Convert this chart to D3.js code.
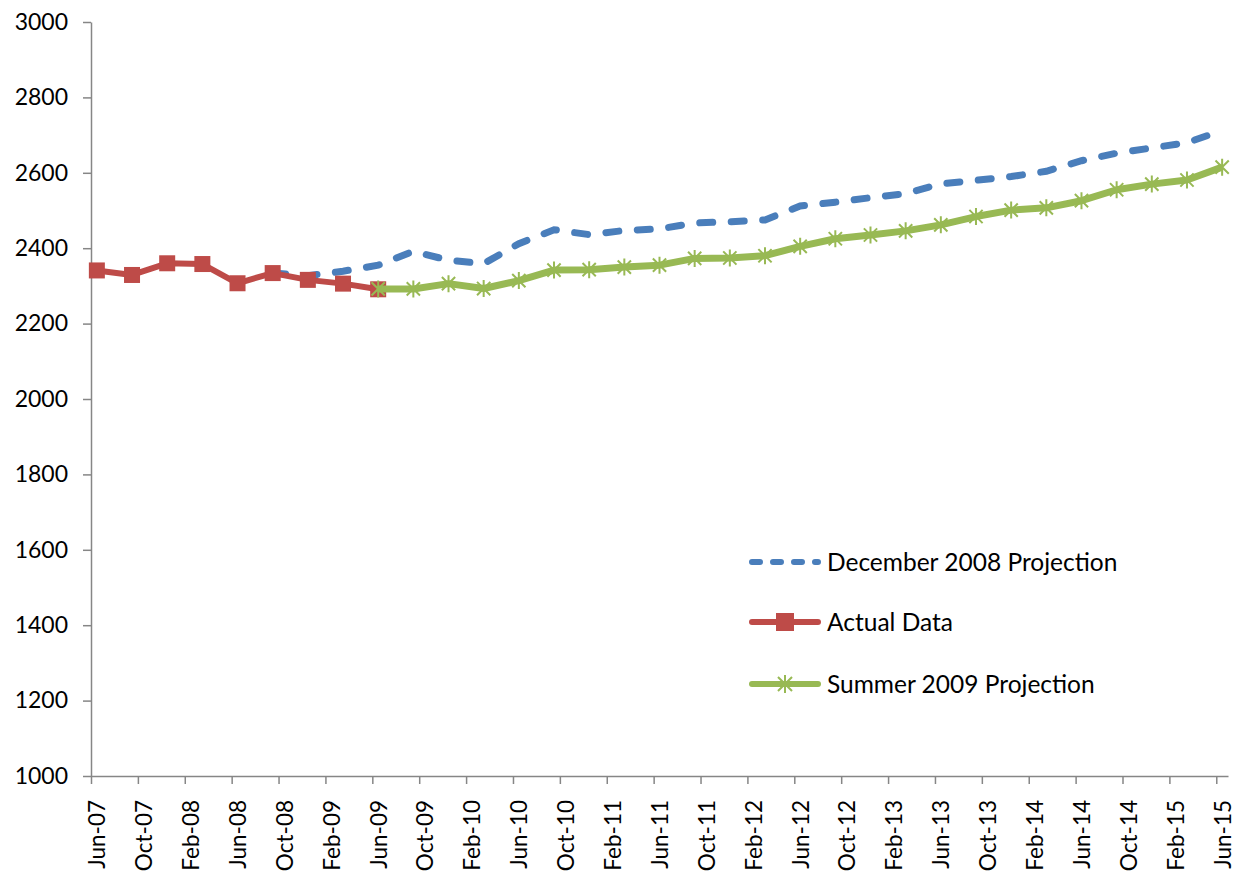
<!DOCTYPE html>
<html>
<head>
<meta charset="utf-8">
<script src="https://cdn.jsdelivr.net/npm/d3@7"></script>
<style>
  body { margin: 0; background: #fff; }
  svg { display: block; font-family: Lato, "Open Sans", sans-serif; }
</style>
</head>
<body>
<script>
'use strict';

// tick labels of the date axis (every 4 months)
let tickLabels = ["Jun-07", "Oct-07", "Feb-08", "Jun-08", "Oct-08", "Feb-09", "Jun-09",
  "Oct-09", "Feb-10", "Jun-10", "Oct-10", "Feb-11", "Jun-11", "Oct-11", "Feb-12",
  "Jun-12", "Oct-12", "Feb-13", "Jun-13", "Oct-13", "Feb-14", "Jun-14", "Oct-14",
  "Feb-15", "Jun-15"];

// quarterly dates of the data points
let quarterDates = ["Jun-07", "Sep-07", "Dec-07", "Mar-08", "Jun-08", "Sep-08", "Dec-08",
  "Mar-09", "Jun-09", "Sep-09", "Dec-09", "Mar-10", "Jun-10", "Sep-10", "Dec-10",
  "Mar-11", "Jun-11", "Sep-11", "Dec-11", "Mar-12", "Jun-12", "Sep-12", "Dec-12",
  "Mar-13", "Jun-13", "Sep-13", "Dec-13", "Mar-14", "Jun-14", "Sep-14", "Dec-14",
  "Mar-15", "Jun-15"];

// series values
let actualDates = quarterDates.slice(0, 9);
let actualValues = [2341, 2329, 2360, 2358, 2307, 2334, 2316, 2306, 2291];

let dec2008Dates = quarterDates.slice(5);
let dec2008Values = [2334, 2327, 2339, 2355, 2392, 2368, 2359, 2412, 2449, 2436,
  2447, 2451, 2467, 2470, 2475, 2512, 2522, 2534, 2545, 2571, 2580, 2590, 2604,
  2632, 2652, 2666, 2680, 2712];

let summer2009Dates = quarterDates.slice(8);
let summer2009Values = [2292, 2292, 2306, 2293, 2314, 2342, 2343, 2350, 2355, 2373,
  2374, 2380, 2405, 2425, 2435, 2446, 2462, 2484, 2501, 2507, 2526, 2555, 2570,
  2581, 2615];

let yTicks = [1000, 1200, 1400, 1600, 1800, 2000, 2200, 2400, 2600, 2800, 3000];

let seriesNames = ["December 2008 Projection", "Actual Data", "Summer 2009 Projection"];

// chart size and plot area
let width = 1236, height = 873;
let plot = { left: 91, right: 1228, top: 22, bottom: 776 };

let colors = { blue: "#4A7EBB", red: "#BE4B48", green: "#98B954", axis: "#868686" };
let fontFamily = 'Lato, "Open Sans", sans-serif';

let monthNames = ["Jan", "Feb", "Mar", "Apr", "May", "Jun", "Jul", "Aug", "Sep", "Oct", "Nov", "Dec"];

// months since Jun-07
function monthIndex(label) {
  let parts = label.split("-");
  let year = 2000 + (+parts[1]);
  return (year - 2007) * 12 + monthNames.indexOf(parts[0]) - 5;
}

let svg = d3.select("body").append("svg")
  .attr("width", width)
  .attr("height", height);

// date axis: one slot per month, points sit in the middle of their month
let x = d3.scaleLinear().domain([0, 97]).range([plot.left, plot.right]);
let y = d3.scaleLinear().domain([1000, 3000]).range([plot.bottom, plot.top]);
let halfMonth = (x(1) - x(0)) / 2;

function px(d) { return x(monthIndex(d) + 0.5); }

// y axis
let yAxis = svg.append("g")
  .attr("transform", "translate(" + plot.left + ",0)")
  .call(d3.axisLeft(y)
    .tickValues(yTicks)
    .tickFormat(d => String(d))
    .tickSize(8)
    .tickSizeOuter(0)
    .tickPadding(15));

// x axis
let xAxis = svg.append("g")
  .attr("transform", "translate(0," + plot.bottom + ")")
  .call(d3.axisBottom(x)
    .tickValues(tickLabels.map(monthIndex))
    .tickSize(8)
    .tickSizeOuter(0)
    .tickFormat((d, i) => tickLabels[i]));

[xAxis, yAxis].forEach(g => {
  g.attr("font-family", fontFamily).attr("font-size", 23);
  g.select(".domain").attr("stroke", colors.axis).attr("stroke-width", 1.5);
  g.selectAll(".tick line").attr("stroke", colors.axis).attr("stroke-width", 1.5);
  g.selectAll(".tick text").attr("fill", "#000");
});

// rotated date labels, centred on their month slot
xAxis.selectAll(".tick text")
  .attr("x", 0)
  .attr("y", 0)
  .attr("dy", "0.35em")
  .attr("font-size", 22.5)
  .attr("transform", "translate(" + halfMonth + ",24) rotate(-90)")
  .style("text-anchor", "end");

let line = d3.line()
  .x(d => px(d.date))
  .y(d => y(d.value));

function zip(dates, values) {
  return dates.map((d, i) => ({ date: d, value: values[i] }));
}

// December 2008 projection (dashed)
svg.append("path")
  .datum(zip(dec2008Dates, dec2008Values))
  .attr("d", line)
  .attr("fill", "none")
  .attr("stroke", colors.blue)
  .attr("stroke-width", 7)
  .attr("stroke-linecap", "round")
  .attr("stroke-dasharray", "13,18.5");

// actual data
let actual = zip(actualDates, actualValues);
svg.append("path")
  .datum(actual)
  .attr("d", line)
  .attr("fill", "none")
  .attr("stroke", colors.red)
  .attr("stroke-width", 6)
  .attr("stroke-linejoin", "round");

let sq = 16;
svg.selectAll(".sq")
  .data(actual)
  .enter()
  .append("rect")
  .attr("x", d => px(d.date) - sq / 2)
  .attr("y", d => y(d.value) - sq / 2)
  .attr("width", sq)
  .attr("height", sq)
  .attr("fill", colors.red);

// summer 2009 projection
let summer = zip(summer2009Dates, summer2009Values);
svg.append("path")
  .datum(summer)
  .attr("d", line)
  .attr("fill", "none")
  .attr("stroke", colors.green)
  .attr("stroke-width", 7)
  .attr("stroke-linejoin", "round");

function starPath(cx, cy, r) {
  let a = r * 0.78;
  return "M" + cx + "," + (cy - r) + "V" + (cy + r) +
    "M" + (cx - a) + "," + (cy - a) + "L" + (cx + a) + "," + (cy + a) +
    "M" + (cx - a) + "," + (cy + a) + "L" + (cx + a) + "," + (cy - a);
}

svg.selectAll(".star")
  .data(summer)
  .enter()
  .append("path")
  .attr("d", d => starPath(px(d.date), y(d.value), 8.5))
  .attr("stroke", colors.green)
  .attr("stroke-width", 2)
  .attr("fill", "none");

// legend
let legend = svg.append("g").attr("transform", "translate(749,0)");
let rowsY = [562, 622, 684];

legend.append("line")
  .attr("x1", 3).attr("x2", 69).attr("y1", rowsY[0]).attr("y2", rowsY[0])
  .attr("stroke", colors.blue).attr("stroke-width", 6)
  .attr("stroke-linecap", "round").attr("stroke-dasharray", "8,13");

legend.append("line")
  .attr("x1", 3).attr("x2", 69).attr("y1", rowsY[1]).attr("y2", rowsY[1])
  .attr("stroke", colors.red).attr("stroke-width", 6).attr("stroke-linecap", "round");
legend.append("rect")
  .attr("x", 36 - 9).attr("y", rowsY[1] - 9).attr("width", 18).attr("height", 18)
  .attr("fill", colors.red);

legend.append("line")
  .attr("x1", 3).attr("x2", 69).attr("y1", rowsY[2]).attr("y2", rowsY[2])
  .attr("stroke", colors.green).attr("stroke-width", 6).attr("stroke-linecap", "round");
legend.append("path")
  .attr("d", starPath(36, rowsY[2], 9))
  .attr("stroke", colors.green).attr("stroke-width", 2).attr("fill", "none");

legend.selectAll(".label")
  .data(seriesNames)
  .enter()
  .append("text")
  .attr("x", 78)
  .attr("y", (d, i) => rowsY[i])
  .attr("dy", "0.35em")
  .style("font-size", "24.5px")
  .attr("fill", "#000")
  .text(d => d);
</script>
</body>
</html>
